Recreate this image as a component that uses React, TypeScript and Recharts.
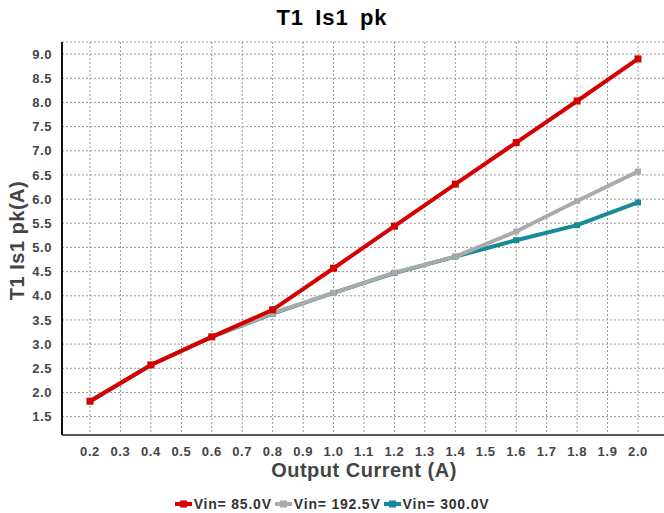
import React from "react";
import {
  LineChart,
  Line,
  XAxis,
  YAxis,
  CartesianGrid,
} from "recharts";

const current = [0.2, 0.4, 0.6, 0.8, 1.0, 1.2, 1.4, 1.6, 1.8, 2.0];
const vin85 = [1.82, 2.57, 3.15, 3.71, 4.57, 5.44, 6.31, 7.17, 8.03, 8.9];
const vin192 = [1.82, 2.57, 3.15, 3.64, 4.06, 4.48, 4.81, 5.33, 5.96, 6.57];
const vin300 = [1.82, 2.57, 3.15, 3.63, 4.06, 4.47, 4.81, 5.15, 5.46, 5.93];

const xTicks = [0.2, 0.3, 0.4, 0.5, 0.6, 0.7, 0.8, 0.9, 1.0, 1.1, 1.2, 1.3, 1.4, 1.5, 1.6, 1.7, 1.8, 1.9, 2.0];
const yTicks = [1.5, 2.0, 2.5, 3.0, 3.5, 4.0, 4.5, 5.0, 5.5, 6.0, 6.5, 7.0, 7.5, 8.0, 8.5, 9.0];

const seriesNames = ["Vin= 85.0V", "Vin= 192.5V", "Vin= 300.0V"];
const seriesColors = ["#d40000", "#aaaaaa", "#178a99"];

const data = current.map((x, i) => ({
  x,
  a: vin85[i],
  b: vin192[i],
  c: vin300[i],
}));

const SquareDot = (color: string, size: number) => (props: any) => {
  const { cx, cy, index } = props;
  if (cx == null || cy == null) return <g key={index} />;
  return (
    <rect
      key={index}
      x={cx - size / 2}
      y={cy - size / 2}
      width={size}
      height={size}
      fill={color}
    />
  );
};

const tickStyle = {
  fill: "#444",
  fontSize: 13,
  fontWeight: 700,
  letterSpacing: 0.6,
  fontFamily: "Liberation Sans, Arial, sans-serif",
};

// plot runs past the right edge of the picture, so draw wider and clip
const X_DOMAIN = [0.108, 2.138];

export default function App() {
  return (
    <div
      style={{
        position: "relative",
        width: 664,
        height: 513,
        overflow: "hidden",
        fontFamily: "Liberation Sans, Arial, sans-serif",
      }}
    >
      <style>{`body{margin:0}`}</style>
      <div
        style={{
          position: "absolute",
          top: 5,
          left: 0,
          width: 664,
          textAlign: "center",
          fontSize: 22,
          fontWeight: 700,
          letterSpacing: 1,
          wordSpacing: 4,
          color: "#000",
        }}
      >
        T1 Is1 pk
      </div>
      <LineChart
        width={680}
        height={513}
        data={data}
        margin={{ top: 42, right: 0, left: 0, bottom: 0 }}
      >
        <CartesianGrid stroke="#999" strokeDasharray="2 2" />
        <XAxis
          dataKey="x"
          type="number"
          domain={X_DOMAIN}
          ticks={xTicks}
          tickFormatter={(v: number) => v.toFixed(1)}
          allowDataOverflow
          height={78}
          tickSize={0}
          tickMargin={12}
          tick={tickStyle}
          axisLine={{ stroke: "#555", strokeWidth: 2 }}
        />
        <XAxis
          xAxisId="top"
          orientation="top"
          dataKey="x"
          type="number"
          domain={X_DOMAIN}
          height={0}
          tick={false}
          tickLine={false}
          axisLine={{ stroke: "#555", strokeWidth: 2 }}
        />
        <YAxis
          type="number"
          domain={[1.12, 9.25]}
          ticks={yTicks}
          tickFormatter={(v: number) => v.toFixed(1)}
          allowDataOverflow
          width={62}
          tickSize={0}
          tickMargin={10}
          tick={tickStyle}
          axisLine={{ stroke: "#111", strokeWidth: 2 }}
        />
        <Line
          dataKey="c"
          name={seriesNames[2]}
          stroke={seriesColors[2]}
          strokeWidth={4}
          dot={SquareDot(seriesColors[2], 6)}
          isAnimationActive={false}
        />
        <Line
          dataKey="b"
          name={seriesNames[1]}
          stroke={seriesColors[1]}
          strokeWidth={4}
          dot={SquareDot(seriesColors[1], 6)}
          isAnimationActive={false}
        />
        <Line
          dataKey="a"
          name={seriesNames[0]}
          stroke={seriesColors[0]}
          strokeWidth={4}
          dot={SquareDot(seriesColors[0], 7)}
          isAnimationActive={false}
        />
      </LineChart>
      <div
        style={{
          position: "absolute",
          left: 0,
          top: 228,
          width: 36,
          height: 24,
          display: "flex",
          alignItems: "center",
          justifyContent: "center",
        }}
      >
        <div
          style={{
            transform: "rotate(-90deg)",
            whiteSpace: "nowrap",
            fontSize: 20,
            fontWeight: 700,
            letterSpacing: 0.5,
            color: "#444",
          }}
        >
          T1 Is1 pk(A)
        </div>
      </div>
      <div
        style={{
          position: "absolute",
          top: 459,
          left: 62,
          width: 604,
          textAlign: "center",
          fontSize: 20,
          fontWeight: 700,
          letterSpacing: 0.5,
          color: "#444",
        }}
      >
        Output Current (A)
      </div>
      <div
        style={{
          position: "absolute",
          top: 496,
          left: 0,
          width: 664,
          display: "flex",
          justifyContent: "center",
          gap: 3,
          fontSize: 14,
          fontWeight: 700,
          letterSpacing: 0.8,
          color: "#333",
        }}
      >
        {seriesNames.map((name, i) => (
          <div key={name} style={{ display: "flex", alignItems: "center" }}>
            <svg width={17} height={10} style={{ marginRight: 2 }}>
              <line x1={0} y1={5} x2={17} y2={5} stroke={seriesColors[i]} strokeWidth={4} />
              <rect x={5} y={1.5} width={7} height={7} fill={seriesColors[i]} />
            </svg>
            <span>{name}</span>
          </div>
        ))}
      </div>
    </div>
  );
}
